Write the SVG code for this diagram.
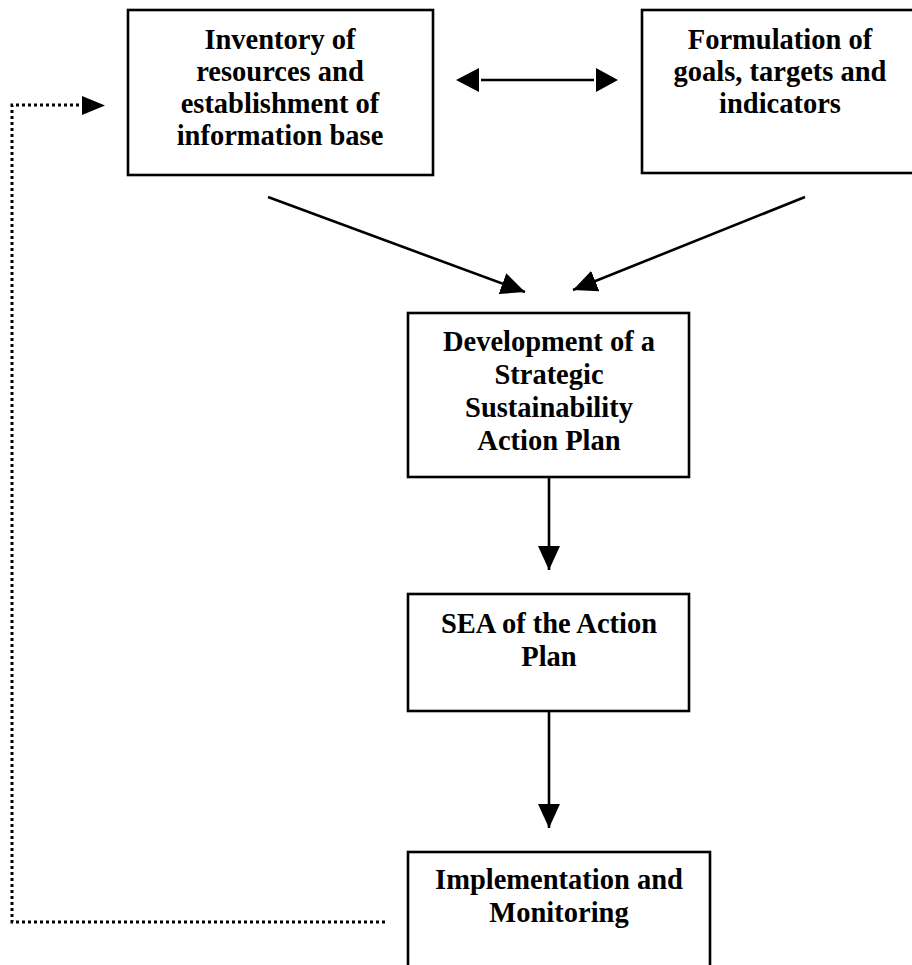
<svg xmlns="http://www.w3.org/2000/svg" width="912" height="965" viewBox="0 0 912 965">
<style>
.box{fill:#fff;stroke:#000;stroke-width:2.6}
.t{font-family:"Liberation Serif","Times New Roman",serif;font-weight:bold;font-size:28.5px;fill:#000;text-anchor:middle}
.c{stroke:#000;stroke-width:2.6;fill:none}
.d{stroke:#000;stroke-width:3;fill:none;stroke-dasharray:3 3}
</style>
<defs>
<marker id="ah" markerUnits="userSpaceOnUse" markerWidth="24" markerHeight="22" refX="24" refY="11" orient="auto-start-reverse">
<path d="M0,0 L24,11 L0,22 z" fill="#000"/>
</marker>
</defs>
<rect width="912" height="965" fill="#fff"/>
<g id="connectors">
<line class="c" x1="481" y1="80" x2="594" y2="80"/>
<polygon points="456,80 479,68 479,92" fill="#000"/>
<polygon points="618,80 596,68 596,92" fill="#000"/>
<line class="c" x1="268" y1="197" x2="525" y2="292" marker-end="url(#ah)"/>
<line class="c" x1="805" y1="197" x2="573" y2="290" marker-end="url(#ah)"/>
<line class="c" x1="549" y1="477" x2="549" y2="570" marker-end="url(#ah)"/>
<line class="c" x1="549" y1="711" x2="549" y2="828" marker-end="url(#ah)"/>
<polyline class="d" points="385,922 12,922 12,105 82,105"/>
<polygon points="82,96 105,105.5 82,115" fill="#000"/>
</g>
<g id="inventory">
<rect class="box" x="128" y="10" width="305" height="165"/>
<text class="t" x="280" y="49">Inventory of</text>
<text class="t" x="280" y="81">resources and</text>
<text class="t" x="280" y="113">establishment of</text>
<text class="t" x="280" y="145">information base</text>
</g>
<g id="formulation">
<rect class="box" x="642" y="10" width="280" height="163"/>
<text class="t" x="780" y="49">Formulation of</text>
<text class="t" x="780" y="81">goals, targets and</text>
<text class="t" x="780" y="113">indicators</text>
</g>
<g id="development">
<rect class="box" x="408" y="313" width="281" height="164"/>
<text class="t" x="549" y="351">Development of a</text>
<text class="t" x="549" y="384">Strategic</text>
<text class="t" x="549" y="417">Sustainability</text>
<text class="t" x="549" y="450">Action Plan</text>
</g>
<g id="sea">
<rect class="box" x="408" y="594" width="281" height="117"/>
<text class="t" x="549" y="633">SEA of the Action</text>
<text class="t" x="549" y="666">Plan</text>
</g>
<g id="implementation">
<rect class="box" x="408" y="852" width="302" height="130"/>
<text class="t" x="559" y="889">Implementation and</text>
<text class="t" x="559" y="922">Monitoring</text>
</g>
</svg>
